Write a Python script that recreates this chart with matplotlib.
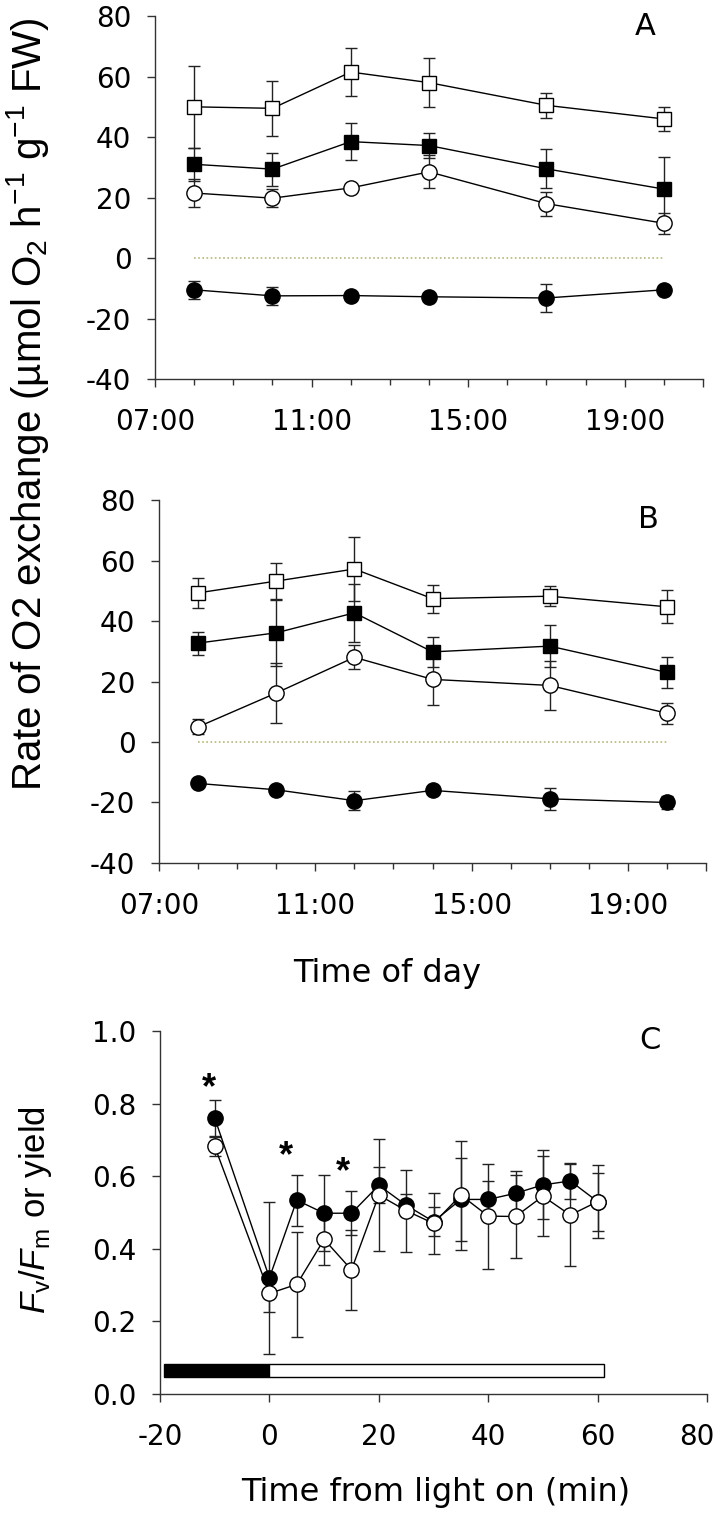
import matplotlib
matplotlib.use('Agg')
import matplotlib.pyplot as plt
from matplotlib.patches import Rectangle
from matplotlib.ticker import FixedLocator, MultipleLocator, FormatStrFormatter

plt.rcParams['font.family'] = ['DejaVu Sans']
plt.rcParams['axes.unicode_minus'] = False
plt.rcParams['mathtext.fontset'] = 'custom'
plt.rcParams['mathtext.rm'] = 'Liberation Sans'
plt.rcParams['mathtext.it'] = 'Liberation Sans:italic'

# time of day (hours)
hours = [8, 10, 12, 14, 17, 20]
hour_ticks = [7, 11, 15, 19]
hour_labels = ['07:00', '11:00', '15:00', '19:00']

# panel A
a_open_sq = [50, 49.5, 61.5, 58, 50.5, 46]
a_open_sq_err = [13.5, 9, 8, 8, 4.2, 4]
a_fill_sq = [31, 29.4, 38.5, 37.2, 29.5, 22.8]
a_fill_sq_err = [5.5, 5.5, 6, 4, 6.5, 10.5]
a_open_ci = [21.5, 19.8, 23.2, 28.5, 18, 11.5]
a_open_ci_err = [4.5, 3, 0.8, 5.5, 4, 3.5]
a_fill_ci = [-10.5, -12.5, -12.4, -12.8, -13.2, -10.5]
a_fill_ci_err = [3, 3, 0.8, 1, 4.5, 0.8]

# panel B
b_open_sq = [49.3, 53.2, 57.2, 47.4, 48.2, 44.7]
b_open_sq_err = [5, 6, 10.5, 4.6, 3.4, 5.5]
b_fill_sq = [32.7, 36.1, 42.7, 29.8, 31.7, 23]
b_fill_sq_err = [3.8, 11, 9.5, 5, 7, 5]
b_open_ci = [5, 16.2, 28, 20.7, 18.7, 9.5]
b_open_ci_err = [2.5, 10, 4, 8.6, 8, 3.5]
b_fill_ci = [-13.7, -15.8, -19.4, -16, -18.8, -20]
b_fill_ci_err = [0.8, 0.8, 3.2, 0.8, 3.6, 2]

# panel C
minutes = [-10, 0, 5, 10, 15, 20, 25, 30, 35, 40, 45, 50, 55, 60]
c_fill = [0.76, 0.32, 0.534, 0.498, 0.498, 0.575, 0.52, 0.475, 0.536, 0.536, 0.553, 0.576, 0.587, 0.53]
c_fill_err = [0.05, 0.21, 0.07, 0.105, 0.06, 0.05, 0.03, 0.04, 0.115, 0.05, 0.06, 0.095, 0.05, 0.08]
c_open = [0.682, 0.277, 0.302, 0.426, 0.342, 0.548, 0.505, 0.47, 0.548, 0.49, 0.489, 0.545, 0.493, 0.53]
c_open_err = [0.025, 0.05, 0.145, 0.07, 0.11, 0.155, 0.113, 0.085, 0.15, 0.145, 0.115, 0.11, 0.14, 0.1]
c_ticks = [-20, 0, 20, 40, 60, 80]
c_tick_labels = ['-20', '0', '20', '40', '60', '80']
star_x = [-11, 3, 13.5]
star_y = [0.84, 0.655, 0.61]
dark_period = [-19.2, 0]
light_period = [0, 61.2]
bar_y = [0.046, 0.082]

fig = plt.figure(figsize=(7.17, 15.18), dpi=100)
axA = fig.add_axes([0.2162, 0.7503, 0.7643, 0.2391])
axB = fig.add_axes([0.2218, 0.4315, 0.7629, 0.2391])
axC = fig.add_axes([0.2232, 0.0817, 0.7629, 0.2391])

TICK_FS = 20
ecol = '#222222'


def series(ax, x, y, err, marker, face, ms):
    ax.errorbar(x, y, yerr=err, fmt='none', ecolor=ecol, elinewidth=1,
                capsize=4.5, capthick=1, zorder=2)
    ax.plot(x, y, color='black', lw=1, marker=marker, ms=ms,
            mfc=face, mec='black', mew=1, zorder=3)


def style(ax):
    for s in ['top', 'right']:
        ax.spines[s].set_visible(False)
    for s in ['left', 'bottom']:
        ax.spines[s].set_color('#333333')
        ax.spines[s].set_linewidth(1)
    ax.tick_params(axis='both', which='major', direction='out', length=6,
                   width=1, color='#333333', labelsize=TICK_FS)
    ax.tick_params(axis='x', which='major', pad=15)
    ax.tick_params(axis='y', which='major', pad=11)
    ax.tick_params(axis='x', which='minor', direction='out', length=4,
                   width=1, color='#333333')


for ax, data, letter, ly in [
    (axA, (a_open_sq, a_open_sq_err, a_fill_sq, a_fill_sq_err,
           a_open_ci, a_open_ci_err, a_fill_ci, a_fill_ci_err), 'A', 0.97),
    (axB, (b_open_sq, b_open_sq_err, b_fill_sq, b_fill_sq_err,
           b_open_ci, b_open_ci_err, b_fill_ci, b_fill_ci_err), 'B', 0.945),
]:
    osq, osq_e, fsq, fsq_e, oci, oci_e, fci, fci_e = data
    ax.plot([hours[0], hours[-1]], [0, 0], color='#b8b87a', lw=1.2,
            linestyle=(0, (1, 1.5)), zorder=1)
    series(ax, hours, fci, fci_e, 'o', 'black', 11)
    series(ax, hours, oci, oci_e, 'o', 'white', 11)
    series(ax, hours, fsq, fsq_e, 's', 'black', 10)
    series(ax, hours, osq, osq_e, 's', 'white', 10)
    ax.set_xlim(7, 21)
    ax.set_ylim(-40, 80)
    ax.yaxis.set_major_locator(MultipleLocator(20))
    ax.xaxis.set_major_locator(FixedLocator(hour_ticks + [21]))
    ax.set_xticklabels(hour_labels + [''])
    ax.xaxis.set_minor_locator(MultipleLocator(1))
    style(ax)
    ax.text(0.895, ly, letter, transform=ax.transAxes, fontsize=22,
            ha='center', va='center')

# panel C
series(axC, minutes, c_fill, c_fill_err, 'o', 'black', 11)
series(axC, minutes, c_open, c_open_err, 'o', 'white', 11)
for sx, sy in zip(star_x, star_y):
    axC.text(sx, sy, '*', fontsize=26, fontweight='bold', ha='center', va='center',
             family='Liberation Sans')
axC.add_patch(Rectangle((dark_period[0], bar_y[0]), dark_period[1] - dark_period[0],
                        bar_y[1] - bar_y[0], facecolor='black', edgecolor='black', lw=1))
axC.add_patch(Rectangle((light_period[0], bar_y[0]), light_period[1] - light_period[0],
                        bar_y[1] - bar_y[0], facecolor='white', edgecolor='black', lw=1))
axC.set_xlim(-20, 80)
axC.set_ylim(0, 1)
axC.set_xticks(c_ticks, labels=c_tick_labels[:-1] + [''])
axC.yaxis.set_major_locator(MultipleLocator(0.2))
axC.yaxis.set_major_formatter(FormatStrFormatter('%.1f'))
style(axC)
# last tick label nudged left so it stays inside the figure
axC.annotate(c_tick_labels[-1], xy=(c_ticks[-1], 0), xycoords=('data', 'axes fraction'),
             xytext=(-7, -21), textcoords='offset points', ha='center', va='top',
             fontsize=TICK_FS, annotation_clip=False)
axC.text(0.896, 0.975, 'C', transform=axC.transAxes, fontsize=22,
         ha='center', va='center')

fig.text(0.039, 0.734, r'Rate of O2 exchange (µmol O$_2$ h$^{-1}$ g$^{-1}$ FW)',
         rotation=90, ha='center', va='center', fontsize=29, family='Liberation Sans')
fig.text(0.54, 0.359, 'Time of day', ha='center', va='center', fontsize=23)
fig.text(0.607, 0.0165, 'Time from light on (min)', ha='center', va='center', fontsize=23)
fig.text(0.05, 0.203, r'$F_\mathrm{v}/F_\mathrm{m}$ or yield', rotation=90,
         ha='center', va='center', fontsize=25, family='Liberation Sans')

fig.savefig('out.png', dpi=100)
